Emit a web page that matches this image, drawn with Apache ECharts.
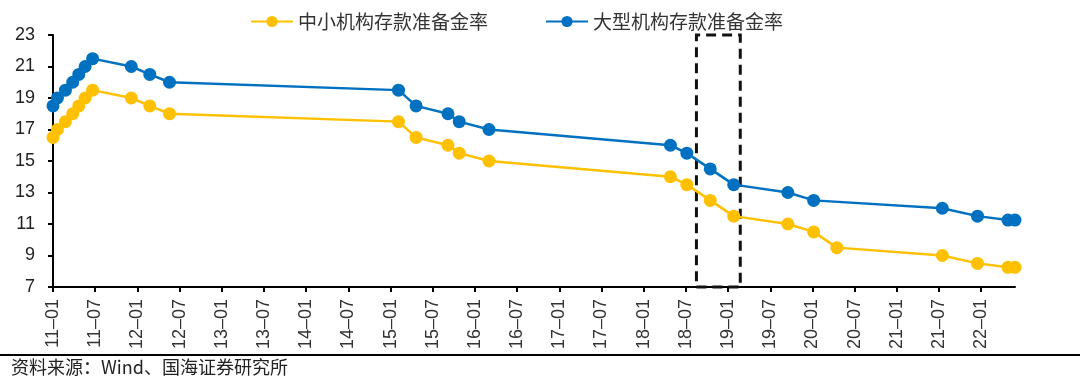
<!DOCTYPE html>
<html><head><meta charset="utf-8">
<script src="https://cdn.jsdelivr.net/npm/echarts@6/dist/echarts.min.js"></script>
<style>html,body{margin:0;padding:0;background:#fff}#c{width:1080px;height:383px}</style>
</head><body><div id="c"></div>
<script>
// ---- data ----
const smallName = '中小机构存款准备金率';
const largeName = '大型机构存款准备金率';
const smallDates = ['2011-01-01','2011-01-20','2011-02-24','2011-03-25','2011-04-21','2011-05-18','2011-06-20','2011-12-05','2012-02-24','2012-05-18','2015-02-05','2015-04-20','2015-09-06','2015-10-24','2016-03-01','2018-04-25','2018-07-05','2018-10-15','2019-01-25','2019-09-16','2020-01-06','2020-04-15','2021-07-15','2021-12-15','2022-04-25','2022-05-25'];
const smallValues = [16.5,17,17.5,18,18.5,19,19.5,19,18.5,18,17.5,16.5,16,15.5,15,14,13.5,12.5,11.5,11,10.5,9.5,9,8.5,8.25,8.25];
const largeDates = ['2011-01-01','2011-01-20','2011-02-24','2011-03-25','2011-04-21','2011-05-18','2011-06-20','2011-12-05','2012-02-24','2012-05-18','2015-02-05','2015-04-20','2015-09-06','2015-10-24','2016-03-01','2018-04-25','2018-07-05','2018-10-15','2019-01-25','2019-09-16','2020-01-06','2021-07-15','2021-12-15','2022-04-25','2022-05-25'];
const largeValues = [18.5,19,19.5,20,20.5,21,21.5,21,20.5,20,19.5,18.5,18,17.5,17,16,15.5,14.5,13.5,13,12.5,12,11.5,11.25,11.25];
const xStart = '2011-01-01';
const xEnd = '2022-05-25';
const boxStart = '2018-08-16';
const boxEnd = '2019-02-23';
const xTickDates = ['2011-01','2011-07','2012-01','2012-07','2013-01','2013-07','2014-01','2014-07','2015-01','2015-07','2016-01','2016-07','2017-01','2017-07','2018-01','2018-07','2019-01','2019-07','2020-01','2020-07','2021-01','2021-07','2022-01'];
const sourceText = '资料来源：Wind、国海证券研究所';

// months since 2011-01-01
function toM(s){
  const p = s.split('-').map(Number);
  const d = p.length > 2 ? p[2] : 1;
  return (p[0]-2011)*12 + (p[1]-1) + (d-1)/30;
}
const xTicks = xTickDates.map(toM);
const fmt = v => {
  const i = xTicks.findIndex(t => Math.abs(t - v) < 1e-6);
  if (i < 0) return '';
  const s = xTickDates[i];
  return s.slice(2,4) + '–' + s.slice(5,7);
};

const chart = echarts.init(document.getElementById('c'));
const font = 'Arial, "Liberation Sans", "Noto Sans CJK SC", sans-serif';
const legendText = { fontSize: 19, color: '#333', fontFamily: '"Noto Sans CJK SC", sans-serif' };
chart.setOption({
  animation: false,
  backgroundColor: '#fff',
  textStyle: { fontFamily: font },
  legend: [
    { top: 7, left: 245, itemWidth: 42, itemHeight: 14, itemGap: 6, textStyle: legendText, data: [smallName] },
    { top: 7, left: 540, itemWidth: 42, itemHeight: 14, itemGap: 6, textStyle: legendText, data: [largeName] }
  ],
  grid: { left: 53, right: 65, top: 35, bottom: 96, containLabel: false },
  xAxis: {
    type: 'value', min: toM(xStart), max: toM(xEnd),
    axisLine: { lineStyle: { color: '#000', width: 2 } },
    axisTick: { show: true, customValues: xTicks, length: 5, lineStyle: { color: '#000', width: 2 } },
    axisLabel: { customValues: xTicks, rotate: 90, fontSize: 18, color: '#333', margin: 12, formatter: fmt },
    splitLine: { show: false }
  },
  yAxis: {
    type: 'value', min: 7, max: 23, interval: 2,
    axisLine: { show: true, lineStyle: { color: '#000', width: 2 } },
    axisTick: { show: true, length: 5, lineStyle: { color: '#000', width: 2 } },
    axisLabel: { fontSize: 18, color: '#222', margin: 18 },
    splitLine: { show: false }
  },
  series: [
    {
      name: smallName, type: 'line',
      data: smallDates.map((d,i) => [toM(d), smallValues[i]]),
      color: '#FFC000',
      lineStyle: { width: 2.5 },
      symbol: 'circle', symbolSize: 13,
      clip: false
    },
    {
      name: largeName, type: 'line',
      data: largeDates.map((d,i) => [toM(d), largeValues[i]]),
      color: '#0070C0',
      lineStyle: { width: 2.5 },
      symbol: 'circle', symbolSize: 13,
      clip: false,
      markArea: {
        silent: true,
        itemStyle: { color: 'rgba(0,0,0,0)', borderColor: '#111', borderWidth: 3, borderType: [10,6] },
        data: [[{ xAxis: toM(boxStart), yAxis: 7 }, { xAxis: toM(boxEnd), yAxis: 23 }]]
      }
    }
  ],
  graphic: [
    { type: 'line', shape: { x1: 0, y1: 355, x2: 1080, y2: 355 }, style: { stroke: '#000', lineWidth: 2 } },
    { type: 'text', left: 11, top: 358, style: { text: sourceText, fontSize: 18, fill: '#222', fontFamily: '"Noto Sans CJK SC", sans-serif' } }
  ]
});
</script></body></html>
